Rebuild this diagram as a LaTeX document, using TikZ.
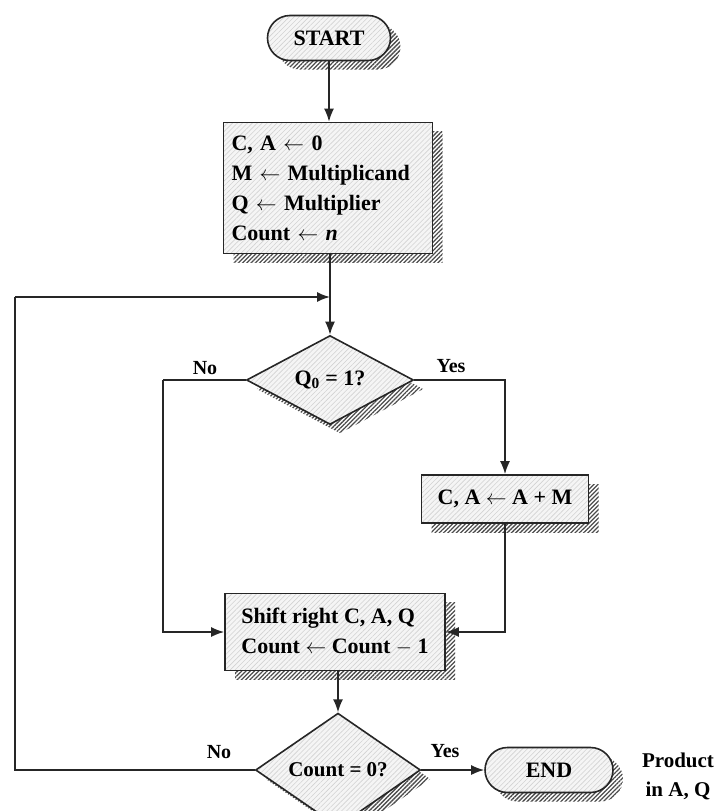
\documentclass[tikz,border=0pt]{standalone}
\usepackage{fontspec}
\setmainfont{Liberation Serif}
\usetikzlibrary{shapes.geometric,shapes.misc,patterns.meta,shadows,arrows.meta}
\begin{document}
\begin{tikzpicture}[x=1pt,y=-1pt,
  base/.style={draw=black!85, line width=1.6pt, inner sep=0pt,
    general shadow={shadow xshift=10pt, shadow yshift=-9pt,
      pattern={Lines[angle=45, distance=3pt, line width=1.3pt]}, pattern color=black!70},
    preaction={fill=gray!8},
    pattern={Lines[angle=45, distance=3.5pt, line width=0.6pt]}, pattern color=gray!35,
    font=\fontsize{22}{30}\selectfont\bfseries},
  termbox/.style={base, rounded rectangle},
  procbox/.style={base, rectangle},
  decbox/.style={base, diamond},
  flow/.style={line width=1.6pt, draw=black!85},
  arr/.style={flow, -{Latex[length=13pt,width=10pt]}},
  lab/.style={font=\fontsize{20}{24}\selectfont\bfseries, inner sep=0pt}
]
\useasboundingbox (0,0) rectangle (727,811);

\node[termbox, minimum width=123pt, minimum height=45pt] (start) at (329,38) {START};
\node[procbox, minimum width=209pt, minimum height=131pt, align=left, text width=193pt] (init) at (328,188)
  {C, A $\leftarrow$ 0\\
   M $\leftarrow$ Multiplicand\\
   Q $\leftarrow$ Multiplier\\
   Count $\leftarrow$ \textit{n}};
\coordinate (join) at (330,297);
\node[decbox, minimum width=167pt, minimum height=68pt] (q0) at (330,380) {Q\textsubscript{0} = 1?};
\node[procbox, minimum width=167pt, minimum height=48pt] (add) at (505,499) {C, A $\leftarrow$ A + M};
\node[procbox, minimum width=220pt, minimum height=77pt, align=left] (shift) at (335,632)
  {Shift right C, A, Q\\ Count $\leftarrow$ Count $-$ 1};
\node[decbox, minimum width=165pt, minimum height=72pt, font=\fontsize{21}{24}\selectfont\bfseries] (cnt) at (338,770) {Count = 0?};
\node[termbox, minimum width=128pt, minimum height=45pt] (end) at (549,770) {END};
\node[lab, align=center, font=\fontsize{21}{29}\selectfont\bfseries] (prod) at (678,776) {Product\\in A, Q};

\node[lab] (no1) at (205,368) {No};
\node[lab] (yes1) at (451,366) {Yes};
\node[lab] (no2) at (219,752) {No};
\node[lab] (yes2) at (445,751) {Yes};

\coordinate (lb) at (163,380);
\coordinate (loopl) at (15,770);
\coordinate (loopt) at (15,297);

\draw[arr] (start.south) -- (start.south |- init.north);
\draw[arr] (init.south -| join) -- (q0.north -| join);
\draw[arr] (loopt) -- (join);
\draw[flow] (q0.west) -- (lb);
\draw[arr] (lb) |- (shift.west);
\draw[arr] (q0.east) -| (add.north);
\draw[arr] (add.south) |- (shift.east);
\draw[arr] (shift.south -| cnt.north) -- (cnt.north);
\draw[arr] (cnt.east) -- (end.west);
\draw[flow] (cnt.west) -- (loopl) -- (loopt);
\end{tikzpicture}
\end{document}
